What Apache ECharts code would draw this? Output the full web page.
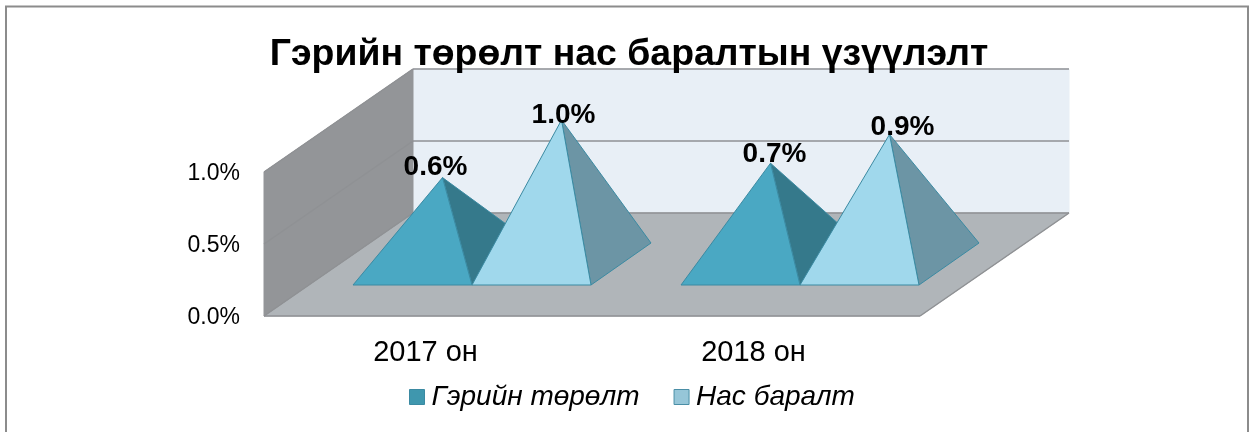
<!DOCTYPE html>
<html>
<head>
  <meta charset="UTF-8">
  <title>Гэрийн төрөлт нас баралтын үзүүлэлт</title>
  <script src="https://cdn.jsdelivr.net/npm/echarts@6/dist/echarts.min.js"></script>
  <style>
    html, body { margin: 0; padding: 0; background: #fff; }
    #main { width: 1253px; height: 432px; }
  </style>
</head>
<body>
<div id="main"></div>
<script>
  var categories = ['2017 он', '2018 он'];
  var births = [0.6, 0.7];
  var deaths = [1.0, 0.9];
  var yTicks = [0, 0.5, 1.0];

  // oblique projection of the 3d box, px
  var DEPTH_X = 149, DEPTH_Y = 103;
  // pyramid footprint: front edge sits this far into the box
  var BASE_X = 44, BASE_Y = 31;
  var PYR_DEPTH_X = 60, PYR_DEPTH_Y = 42;
  var BAR_SHARE = 119 / 328;
  // data label nudges from the apex, [series][category]
  var LABEL_NUDGE = [[[-7, -2], [4, -1]], [[2, 3], [13, 1]]];

  var FONT = '"Liberation Sans", Arial, sans-serif';

  function poly(points, fill, stroke, width) {
    return {
      type: 'polygon',
      shape: { points: points },
      style: { fill: fill, stroke: stroke || fill, lineWidth: width || 1 }
    };
  }

  function line(a, b) {
    return {
      type: 'line',
      shape: { x1: a[0], y1: a[1], x2: b[0], y2: b[1] },
      style: { stroke: '#8f9194', lineWidth: 1.5 }
    };
  }

  function renderBox(params, api) {
    var o = api.coord([0, 0]);
    var band = api.size([1, 0])[0];
    var left = o[0] - band / 2, right = left + band * categories.length;
    var kids = [];
    var top = api.coord([0, yTicks[yTicks.length - 1]])[1];
    var floor = o[1];

    // back wall, floor, left wall
    kids.push(poly([[left + DEPTH_X, top - DEPTH_Y], [right + DEPTH_X, top - DEPTH_Y], [right + DEPTH_X, floor - DEPTH_Y], [left + DEPTH_X, floor - DEPTH_Y]], '#e8eff6'));
    kids.push(poly([[left, floor], [right, floor], [right + DEPTH_X, floor - DEPTH_Y], [left + DEPTH_X, floor - DEPTH_Y]], '#b0b5b9'));
    kids.push(poly([[left, top], [left + DEPTH_X, top - DEPTH_Y], [left + DEPTH_X, floor - DEPTH_Y], [left, floor]], '#939598'));

    // gridlines run along the left wall then across the back
    yTicks.forEach(function (t) {
      var y = api.coord([0, t])[1];
      kids.push(line([left, y], [left + DEPTH_X, y - DEPTH_Y]));
      kids.push(line([left + DEPTH_X, y - DEPTH_Y], [right + DEPTH_X, y - DEPTH_Y]));
    });
    kids.push(line([left, floor], [right, floor]));
    kids.push(line([right, floor], [right + DEPTH_X, floor - DEPTH_Y]));
    return { type: 'group', children: kids };
  }

  function pyramidRender(seriesIdx, front, side) {
    return function (params, api) {
      var base = api.coord([api.value(0), 0]);
      var tip = api.coord([api.value(0), api.value(1)]);
      var band = api.size([1, 0])[0];
      var w = band * BAR_SHARE;
      var h = base[1] - tip[1];

      var y0 = base[1] - BASE_Y;
      var x0 = base[0] + BASE_X + (seriesIdx - 1) * w;
      var x1 = x0 + w;
      var ax = x0 + w / 2 + PYR_DEPTH_X / 2;
      var ay = y0 - PYR_DEPTH_Y / 2 - h;
      var stroke = '#3b8aa2';
      var nudge = LABEL_NUDGE[seriesIdx][params.dataIndex];

      return {
        type: 'group',
        children: [
          poly([[x1, y0], [x1 + PYR_DEPTH_X, y0 - PYR_DEPTH_Y], [ax, ay]], side, stroke),
          poly([[x0, y0], [x1, y0], [ax, ay]], front, stroke),
          {
            type: 'text',
            x: ax + nudge[0],
            y: ay + 6 + nudge[1],
            style: {
              text: api.value(1).toFixed(1) + '%',
              font: 'bold 28px ' + FONT,
              fill: '#000',
              align: 'center',
              verticalAlign: 'bottom'
            }
          }
        ]
      };
    };
  }

  var chart = echarts.init(document.getElementById('main'), null, { renderer: 'canvas' });

  chart.setOption({
    animation: false,
    backgroundColor: '#fff',
    title: {
      text: 'Гэрийн төрөлт нас баралтын үзүүлэлт',
      left: 624,
      top: 31,
      textAlign: 'center',
      textStyle: { fontFamily: FONT, fontSize: 37.4, fontWeight: 'bold', color: '#000' }
    },
    legend: {
      left: 404,
      top: 378,
      itemWidth: 15,
      itemHeight: 15,
      itemGap: 34,
      icon: 'rect',
      data: [
        { name: 'Гэрийн төрөлт', itemStyle: { color: '#3f97ae', borderColor: '#3b8aa2', borderWidth: 1 } },
        { name: 'Нас баралт', itemStyle: { color: '#96c6d8', borderColor: '#4a8ea6', borderWidth: 1 } }
      ],
      textStyle: { fontFamily: FONT, fontSize: 28, fontStyle: 'italic', color: '#000', padding: [0, 0, 0, 2] }
    },
    grid: { left: 264, right: 333, top: 172, height: 144 },
    xAxis: {
      type: 'category',
      data: categories,
      axisLine: { show: false },
      axisTick: { show: false },
      axisLabel: { margin: 22, fontFamily: FONT, fontSize: 29, color: '#000', padding: [0, 5, 0, 0] }
    },
    yAxis: {
      type: 'value',
      min: 0,
      max: 1,
      interval: 0.5,
      axisLine: { show: false },
      axisTick: { show: false },
      splitLine: { show: false },
      axisLabel: {
        margin: 24,
        fontFamily: FONT,
        fontSize: 23,
        color: '#000',
        verticalAlign: 'top',
        lineHeight: 4,
        formatter: function (v) { return v.toFixed(1) + '%'; }
      }
    },
    series: [
      {
        type: 'custom',
        name: 'box',
        silent: true,
        renderItem: renderBox,
        data: [[0, 0]],
        clip: false,
        z: 1
      },
      {
        type: 'custom',
        name: 'Гэрийн төрөлт',
        renderItem: pyramidRender(0, '#4aa8c3', '#35798b'),
        data: categories.map(function (c, i) { return [i, births[i]]; }),
        clip: false,
        z: 2
      },
      {
        type: 'custom',
        name: 'Нас баралт',
        renderItem: pyramidRender(1, '#a0d8ec', '#6c95a5'),
        data: categories.map(function (c, i) { return [i, deaths[i]]; }),
        clip: false,
        z: 3
      }
    ],
    graphic: [{
      type: 'rect',
      shape: { x: 6, y: 6.5, width: 1242, height: 440 },
      style: { fill: 'none', stroke: '#8c8c8c', lineWidth: 2 },
      silent: true
    }]
  });
</script>
</body>
</html>
